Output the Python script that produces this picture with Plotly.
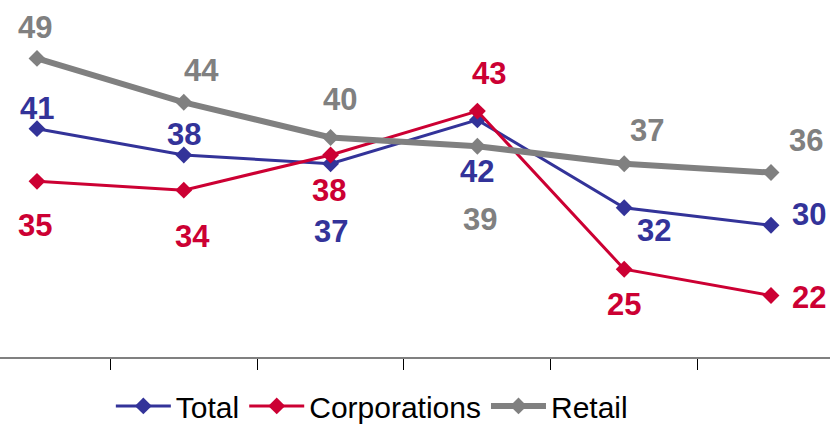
import plotly.graph_objects as go

# Six periods along the x axis (no category labels shown)
periods = [0, 1, 2, 3, 4, 5]

total = [41, 38, 37, 42, 32, 30]
corporations = [35, 34, 38, 43, 25, 22]
retail = [49, 44, 40, 39, 37, 36]

series = [
    ("Total", total, "#333399", 3),
    ("Corporations", corporations, "#CC0033", 3),
    ("Retail", retail, "#808080", 6),
]

# Label offsets (x, y in px) for each data label, per series
label_offsets = {
    "Total": [(0, 20), (0, 21), (0, -68), (0, -52), (30, -23), (38, 11)],
    "Corporations": [(-2, -44), (9, -46), (-2, -35), (12, 38), (0, -35), (38, -2)],
    "Retail": [(-2, 31), (18, 32), (9, 38), (3, -73), (23, 33), (35, 32)],
}

fig = go.Figure()
annotations = []
for name, vals, color, width in series:
    fig.add_trace(go.Scatter(
        x=periods, y=vals, name=name, mode="lines+markers",
        line=dict(color=color, width=width),
        marker=dict(symbol="diamond", size=13, color=color),
    ))
    for (xv, yv), (dx, dy) in zip(zip(periods, vals), label_offsets[name]):
        annotations.append(dict(
            x=xv, y=yv, text=f"<b>{yv}</b>", showarrow=False,
            xshift=dx, yshift=dy,
            font=dict(family="Liberation Sans, Arial, sans-serif", size=31, color=color),
        ))

fig.update_layout(
    width=830, height=425,
    margin=dict(l=0, r=0, t=0, b=68),
    paper_bgcolor="white", plot_bgcolor="white",
    annotations=annotations,
    showlegend=True,
    legend=dict(
        orientation="h", x=0.448, xanchor="center",
        yref="container", y=0.045, yanchor="middle",
        font=dict(family="Liberation Sans, Arial, sans-serif", size=30, color="black"),
        itemwidth=55, tracegroupgap=0,
    ),
    xaxis=dict(
        range=[-0.252, 5.402], showgrid=False, zeroline=False,
        tickvals=[0.5, 1.5, 2.5, 3.5, 4.5], ticktext=[""] * 5,
        ticks="outside", ticklen=11, tickcolor="black", tickwidth=1,
        showline=True, linecolor="#808080", linewidth=1.5,
    ),
    yaxis=dict(
        range=[15, 55.65], showgrid=False, zeroline=False,
        showticklabels=False, showline=False,
    ),
)

fig.write_html("out.html")
